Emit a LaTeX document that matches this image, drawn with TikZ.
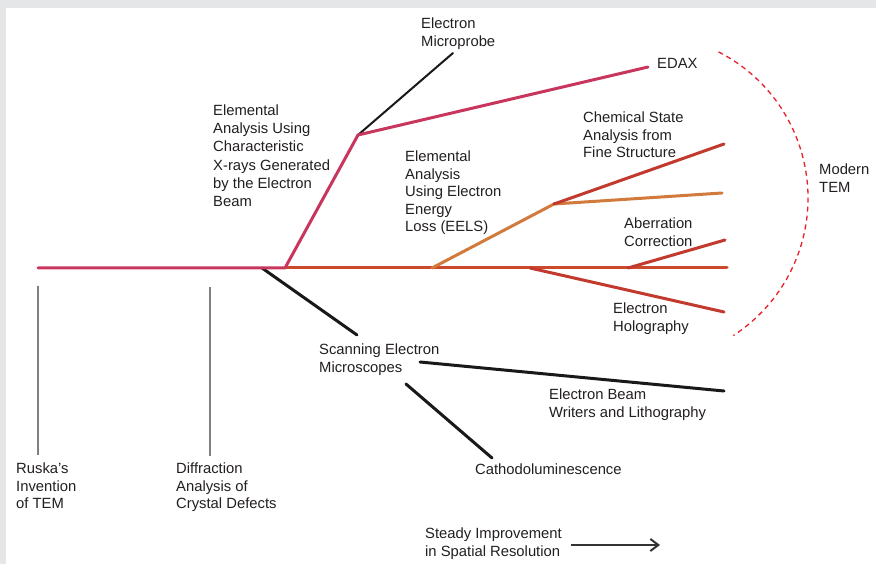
\documentclass[tikz,border=0pt]{standalone}
\usepackage{fontspec}
\setmainfont{Liberation Sans}
\usetikzlibrary{arrows.meta}
\definecolor{bggray}{HTML}{E5E6E8}
\definecolor{pinkline}{HTML}{C8365E}
\definecolor{mainred}{HTML}{CC4A2C}
\definecolor{redline}{HTML}{C23A2E}
\definecolor{orangeline}{HTML}{D27A3C}
\definecolor{txt}{HTML}{231F20}
\definecolor{grayline}{HTML}{808080}
\definecolor{dashred}{HTML}{E8202A}
\begin{document}
\begin{tikzpicture}[x=1pt,y=-1pt,
  lbl/.style={font=\fontsize{14.8}{17.6}\selectfont, text=txt, align=left, inner sep=0pt, anchor=north west},
  pinkbr/.style={draw=pinkline, line width=3pt, line cap=round, line join=round},
  mainbr/.style={draw=mainred, line width=3pt, line cap=round},
  redbr/.style={draw=redline, line width=3pt, line cap=round},
  orbr/.style={draw=orangeline, line width=3pt, line cap=round, line join=round},
  blackbr/.style={draw=black!90, line width=3pt, line cap=round},
  thinblack/.style={draw=black!90, line width=2pt, line cap=round},
  grayln/.style={draw=grayline, line width=2pt},
  modern/.style={draw=dashred, line width=1.3pt, dash pattern=on 5pt off 4pt}]
\fill[bggray] (0,0) rectangle (876,564);
\fill[white] (6,8) rectangle (876,564);
\useasboundingbox (0,0) rectangle (876,564);
% coordinates
\coordinate (start) at (38,268);
\coordinate (s1) at (262,268);
\coordinate (p1) at (285,268);
\coordinate (e1) at (432,268);
\coordinate (h1) at (530,268);
\coordinate (a1) at (628,268);
\coordinate (end) at (727,268);
\coordinate (pk) at (358,135);
\coordinate (mp) at (453,53);
\coordinate (edax) at (648,67);
\coordinate (eo) at (554,204);
\coordinate (eoEnd) at (722,193);
\coordinate (cs) at (724,144);
\coordinate (ab) at (725,240);
\coordinate (ho) at (724,312);
\coordinate (sem) at (357,335);
\coordinate (w1) at (420,362);
\coordinate (w2) at (724,391);
\coordinate (c1) at (406,384);
\coordinate (c2) at (492,458);
\coordinate (g1a) at (38,286);
\coordinate (g1b) at (38,455);
\coordinate (g2a) at (210,287);
\coordinate (g2b) at (210,456);
\coordinate (arA) at (571,545);
\coordinate (arB) at (660,545);
\coordinate (arcC) at (644,198);
% labels
\node[lbl] (mpT) at (421,17.5) {Electron\\Microprobe};
\node[lbl] (edaxT) at (657,58.5) {EDAX};
\node[lbl, font=\fontsize{14.8}{18.2}\selectfont] (xrT) at (213,104.5) {Elemental\\Analysis Using\\Characteristic\\X-rays Generated\\by the Electron\\Beam};
\node[lbl] (eelsT) at (405,150.5) {Elemental\\Analysis\\Using Electron\\Energy\\Loss (EELS)};
\node[lbl] (csT) at (583,111.5) {Chemical State\\Analysis from\\Fine Structure};
\node[lbl] (abT) at (624,217.5) {Aberration\\Correction};
\node[lbl] (hoT) at (613,302.5) {Electron\\Holography};
\node[lbl] (modT) at (819,163.5) {Modern\\TEM};
\node[lbl] (semT) at (319,343.5) {Scanning Electron\\Microscopes};
\node[lbl] (wrT) at (549,388.5) {Electron Beam\\Writers and Lithography};
\node[lbl] (cathT) at (475,463.5) {Cathodoluminescence};
\node[lbl] (ruskaT) at (16,462.5) {Ruska's\\Invention\\of TEM};
\node[lbl] (diffT) at (176,462.5) {Diffraction\\Analysis of\\Crystal Defects};
\node[lbl] (steadyT) at (425,527.5) {Steady Improvement\\in Spatial Resolution};
% gray timeline markers
\draw[grayln] (g1a) -- (g1b);
\draw[grayln] (g2a) -- (g2b);
% black branches
\draw[blackbr] (s1) -- (sem);
\draw[blackbr] (w1) -- (w2);
\draw[blackbr] (c1) -- (c2);
\draw[thinblack] (pk) -- (mp);
% main line
\draw[mainbr] (p1) -- (end);
\draw[pinkbr] (start) -- (p1) -- (pk) -- (edax);
% EELS
\draw[orbr] (e1) -- (eo) -- (eoEnd);
\draw[redbr] (eo) -- (cs);
\draw[redbr] (h1) -- (ho);
\draw[redbr] (a1) -- (ab);
% modern TEM arc
\draw[modern] (arcC) ++(-63:164) arc[start angle=-63, end angle=57, radius=164];
% arrow
\draw[draw=black!80, line width=2pt, -{Straight Barb[length=8pt,width=12pt]}] (arA) -- (arB);
\end{tikzpicture}
\end{document}
